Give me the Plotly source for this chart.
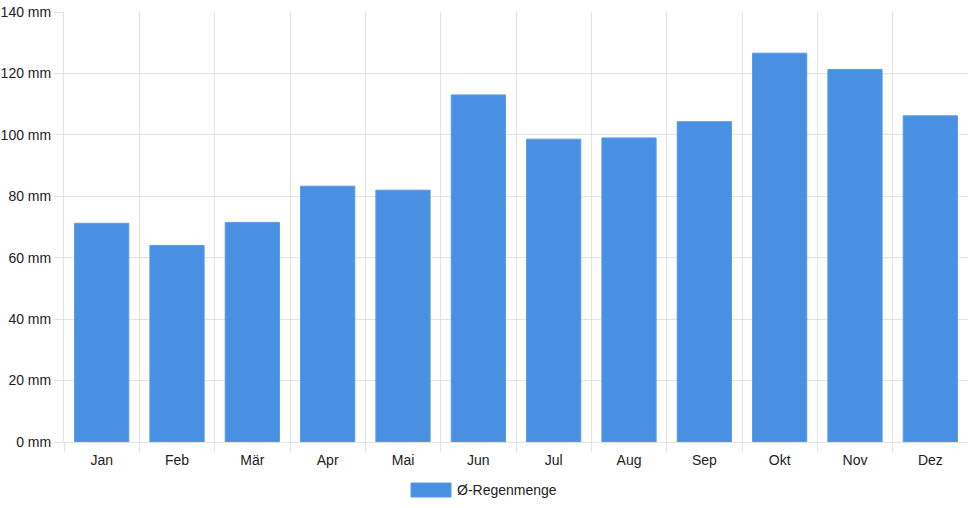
import plotly.graph_objects as go

months = ["Jan", "Feb", "Mär", "Apr", "Mai", "Jun", "Jul", "Aug", "Sep", "Okt", "Nov", "Dez"]
rain_mm = [71.2, 64.0, 71.5, 83.3, 82.0, 113.0, 98.6, 99.0, 104.3, 126.6, 121.3, 106.2]
series_name = "Ø-Regenmenge"
y_ticks = [0, 20, 40, 60, 80, 100, 120, 140]
y_tick_labels = [f"{v} mm" for v in y_ticks]

bar_color = "#4a90e2"
grid_color = "#e3e3e3"

fig = go.Figure()
fig.add_trace(go.Bar(
    x=months, y=rain_mm, name=series_name,
    marker=dict(color=bar_color, line=dict(color="#5b9be6", width=1)),
    width=0.72, showlegend=False,
))

fig.update_layout(
    width=968, height=508,
    margin=dict(l=64, r=0, t=12, b=66),
    paper_bgcolor="white", plot_bgcolor="white",
    font=dict(family="Liberation Sans, Arial, sans-serif", size=14, color="#222"),
)
fig.update_xaxes(
    type="category", range=[-0.5, 11.5],
    tickson="boundaries", ticks="outside", ticklen=9, tickcolor=grid_color,
    ticklabelstandoff=5,
    showgrid=True, gridcolor=grid_color, gridwidth=1,
    showline=True, linecolor=grid_color, linewidth=1,
    tickfont=dict(size=14, color="#222"),
)
fig.update_yaxes(
    range=[0, 140], tickvals=y_ticks, ticktext=y_tick_labels,
    ticks="outside", ticklen=9, tickcolor=grid_color,
    showgrid=True, gridcolor=grid_color, gridwidth=1,
    showline=True, linecolor=grid_color, linewidth=1,
    zeroline=False, tickfont=dict(size=14, color="#222"),
)

# legend drawn as swatch + label
fig.add_shape(type="rect", xref="paper", yref="paper",
              x0=(411 - 64) / 904, x1=(451 - 64) / 904,
              y0=(442 - 497) / 430, y1=(442 - 483) / 430,
              fillcolor=bar_color, line=dict(color="#5b9be6", width=1))
fig.add_annotation(xref="paper", yref="paper",
                   x=(455 - 64) / 904, y=(442 - 490) / 430,
                   text=series_name, showarrow=False,
                   xanchor="left", yanchor="middle",
                   font=dict(size=14, color="#222"))

fig.write_html("out.html", config={"displayModeBar": False},
               post_script="document.body.style.margin='0';document.body.style.padding='0';")
